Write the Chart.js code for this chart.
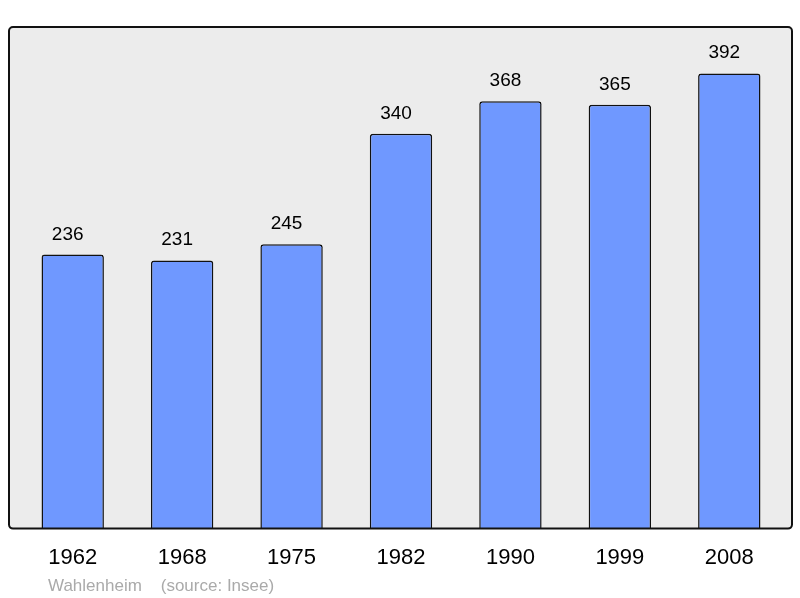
<!DOCTYPE html>
<html>
<head>
<meta charset="utf-8">
<script src="https://cdn.jsdelivr.net/npm/chart.js@4/dist/chart.umd.min.js"></script>
<style>
  html, body { margin: 0; padding: 0; background: #fff; }
  #wrap { width: 800px; height: 598px; }
</style>
</head>
<body>
<div id="wrap"><canvas id="population" width="800" height="598"></canvas></div>
<script>
var years = ["1962", "1968", "1975", "1982", "1990", "1999", "2008"];
var population = [236, 231, 245, 340, 368, 365, 392];
var townName = "Wahlenheim";
var sourceText = "(source: Insee)";

// frame behind the bars, border on top
var framePlugin = {
    id: "frame",
    beforeDatasetsDraw: function (chart) {
        var a = chart.chartArea, ctx = chart.ctx;
        ctx.save();
        ctx.beginPath();
        ctx.roundRect(a.left - 9, a.top, a.right - a.left + 17, a.bottom - a.top, 4);
        ctx.fillStyle = "#ececec";
        ctx.fill();
        ctx.restore();
    },
    afterDatasetsDraw: function (chart) {
        var a = chart.chartArea, ctx = chart.ctx;
        ctx.save();
        ctx.beginPath();
        ctx.roundRect(a.left - 9, a.top, a.right - a.left + 17, a.bottom - a.top, 4);
        ctx.lineWidth = 2;
        ctx.strokeStyle = "#111";
        ctx.stroke();

        // values above bars
        ctx.fillStyle = "#000";
        ctx.font = "19px 'Liberation Sans', Arial, sans-serif";
        ctx.textAlign = "center";
        ctx.textBaseline = "alphabetic";
        chart.getDatasetMeta(0).data.forEach(function (bar, i) {
            ctx.fillText(population[i], bar.x - 5, bar.y - 15);
        });

        // source line
        ctx.fillStyle = "#aaaaaa";
        ctx.font = "17px 'Liberation Sans', Arial, sans-serif";
        ctx.textAlign = "left";
        ctx.fillText(townName + "    " + sourceText, 48, 591);
        ctx.restore();
    }
};

var ctx = document.getElementById("population").getContext("2d");
var chart = new Chart(ctx, {
    type: "bar",
    data: {
        labels: years,
        datasets: [{
            data: population,
            backgroundColor: "#6f98ff",
            borderColor: "#111",
            borderWidth: 1.5,
            borderRadius: { topLeft: 3, topRight: 3 },
            borderSkipped: "bottom",
            barPercentage: 0.57,
            categoryPercentage: 1
        }]
    },
    options: {
        responsive: false,
        animation: false,
        layout: { padding: { left: 18, right: 16, top: 27, bottom: 11 } },
        plugins: {
            legend: { display: false },
            tooltip: { enabled: false }
        },
        scales: {
            x: {
                grid: { display: false, drawTicks: false },
                border: { display: false },
                ticks: {
                    color: "#000",
                    padding: 16,
                    font: { family: "'Liberation Sans', Arial, sans-serif", size: 22 }
                }
            },
            y: {
                display: false,
                min: 0,
                max: 432
            }
        }
    },
    plugins: [framePlugin]
});
</script>
</body>
</html>
